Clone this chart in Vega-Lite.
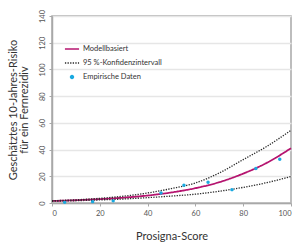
{
  "$schema": "https://vega.github.io/schema/vega-lite/v6.json",
  "autosize": {"type": "none"},
  "padding": {"left": 52, "top": 16, "right": 12, "bottom": 46},
  "width": 239,
  "height": 187,
  "background": "white",
  "config": {
    "font": "Lato",
    "view": {"stroke": "#a8a8a8", "strokeWidth": 1.5},
    "axis": {
      "domainColor": "#a8a8a8",
      "domainWidth": 1.5,
      "tickColor": "#a8a8a8",
      "tickSize": 3,
      "labelColor": "#555555",
      "labelFontSize": 7.5,
      "titleColor": "#333333",
      "titleFontWeight": "normal",
      "titleFontSize": 11,
      "gridColor": "#e6e6e6",
      "gridWidth": 1.5
    },
    "legend": {
      "orient": "none", "legendX": 12, "legendY": 25,
      "labelFontSize": 7.5, "labelColor": "#333333", "rowPadding": 2,
      "symbolSize": 200, "symbolStrokeWidth": 1.6, "labelOffset": 3
    }
  },
  "datasets": {
    "curves": [
      {"x": 0, "y": 1.5, "series": "Modellbasiert", "band": "m"},
      {"x": 10, "y": 2.1, "series": "Modellbasiert", "band": "m"},
      {"x": 20, "y": 2.9, "series": "Modellbasiert", "band": "m"},
      {"x": 30, "y": 4.0, "series": "Modellbasiert", "band": "m"},
      {"x": 40, "y": 5.6, "series": "Modellbasiert", "band": "m"},
      {"x": 50, "y": 7.9, "series": "Modellbasiert", "band": "m"},
      {"x": 60, "y": 11.1, "series": "Modellbasiert", "band": "m"},
      {"x": 70, "y": 15.6, "series": "Modellbasiert", "band": "m"},
      {"x": 80, "y": 22.0, "series": "Modellbasiert", "band": "m"},
      {"x": 90, "y": 30.2, "series": "Modellbasiert", "band": "m"},
      {"x": 100, "y": 41.0, "series": "Modellbasiert", "band": "m"},
      {"x": 0, "y": 1.7, "series": "95 %-Konfidenzintervall", "band": "u"},
      {"x": 10, "y": 2.4, "series": "95 %-Konfidenzintervall", "band": "u"},
      {"x": 20, "y": 3.5, "series": "95 %-Konfidenzintervall", "band": "u"},
      {"x": 30, "y": 5.1, "series": "95 %-Konfidenzintervall", "band": "u"},
      {"x": 40, "y": 7.5, "series": "95 %-Konfidenzintervall", "band": "u"},
      {"x": 50, "y": 10.8, "series": "95 %-Konfidenzintervall", "band": "u"},
      {"x": 60, "y": 15.0, "series": "95 %-Konfidenzintervall", "band": "u"},
      {"x": 70, "y": 22.5, "series": "95 %-Konfidenzintervall", "band": "u"},
      {"x": 80, "y": 32.5, "series": "95 %-Konfidenzintervall", "band": "u"},
      {"x": 90, "y": 42.5, "series": "95 %-Konfidenzintervall", "band": "u"},
      {"x": 100, "y": 54.5, "series": "95 %-Konfidenzintervall", "band": "u"},
      {"x": 0, "y": 1.3, "series": "95 %-Konfidenzintervall", "band": "l"},
      {"x": 10, "y": 1.7, "series": "95 %-Konfidenzintervall", "band": "l"},
      {"x": 20, "y": 2.3, "series": "95 %-Konfidenzintervall", "band": "l"},
      {"x": 30, "y": 3.0, "series": "95 %-Konfidenzintervall", "band": "l"},
      {"x": 40, "y": 4.0, "series": "95 %-Konfidenzintervall", "band": "l"},
      {"x": 50, "y": 5.2, "series": "95 %-Konfidenzintervall", "band": "l"},
      {"x": 60, "y": 6.6, "series": "95 %-Konfidenzintervall", "band": "l"},
      {"x": 70, "y": 8.8, "series": "95 %-Konfidenzintervall", "band": "l"},
      {"x": 80, "y": 11.7, "series": "95 %-Konfidenzintervall", "band": "l"},
      {"x": 90, "y": 15.3, "series": "95 %-Konfidenzintervall", "band": "l"},
      {"x": 100, "y": 19.8, "series": "95 %-Konfidenzintervall", "band": "l"}
    ],
    "points": [
      {"x": 5.3, "y": 0.5, "series": "Empirische Daten"},
      {"x": 17, "y": 1.0, "series": "Empirische Daten"},
      {"x": 25.6, "y": 1.6, "series": "Empirische Daten"},
      {"x": 45.6, "y": 7.5, "series": "Empirische Daten"},
      {"x": 55.2, "y": 13.3, "series": "Empirische Daten"},
      {"x": 65.3, "y": 15.5, "series": "Empirische Daten"},
      {"x": 75.3, "y": 10.0, "series": "Empirische Daten"},
      {"x": 85.3, "y": 25.8, "series": "Empirische Daten"},
      {"x": 95.3, "y": 32.8, "series": "Empirische Daten"}
    ]
  },
  "encoding": {
    "x": {"field": "x", "type": "quantitative", "scale": {"domain": [0, 100], "nice": false},
      "axis": {"title": "Prosigna-Score", "values": [0, 20, 40, 60, 80, 100], "grid": false, "labelPadding": 3, "titlePadding": 14}},
    "y": {"field": "y", "type": "quantitative", "scale": {"domain": [0, 140], "nice": false},
      "axis": {"title": ["Geschätztes 10-Jahres-Risiko", "für ein Fernrezidiv"], "values": [0, 20, 40, 60, 80, 100, 120, 140], "labelAngle": -90, "labelPadding": 3, "titlePadding": 9, "titleLineHeight": 11}},
    "color": {"field": "series", "type": "nominal",
      "scale": {"domain": ["Modellbasiert", "95 %-Konfidenzintervall", "Empirische Daten"], "range": ["#b5146f", "#2a2a2a", "#1aa9e0"]},
      "legend": {"title": null}}
  },
  "layer": [
    {"data": {"name": "curves"}, "transform": [{"filter": "datum.band === 'm'"}],
      "mark": {"type": "line", "interpolate": "monotone", "strokeWidth": 1.8},
      "encoding": {"strokeDash": {"field": "series", "type": "nominal",
        "scale": {"domain": ["Modellbasiert", "95 %-Konfidenzintervall", "Empirische Daten"], "range": [[1, 0], [1.3, 1.3], [1, 0]]},
        "legend": {"title": null}}}},
    {"data": {"name": "curves"}, "transform": [{"filter": "datum.band !== 'm'"}],
      "mark": {"type": "line", "interpolate": "monotone", "strokeWidth": 1.3},
      "encoding": {"detail": {"field": "band"}, "strokeDash": {"field": "series", "type": "nominal",
        "scale": {"domain": ["Modellbasiert", "95 %-Konfidenzintervall", "Empirische Daten"], "range": [[1, 0], [1.3, 1.3], [1, 0]]},
        "legend": {"title": null}}}},
    {"data": {"name": "points"}, "mark": {"type": "point", "filled": true, "size": 289, "opacity": 1},
      "encoding": {"shape": {"field": "series", "type": "nominal",
        "scale": {"domain": ["Modellbasiert", "95 %-Konfidenzintervall", "Empirische Daten"], "range": ["M-1,0H1", "M-1,0H1", "M-0.2,0a0.2,0.2 0 1,0 0.4,0a0.2,0.2 0 1,0 -0.4,0"]},
        "legend": {"title": null}}}}
  ]
}
